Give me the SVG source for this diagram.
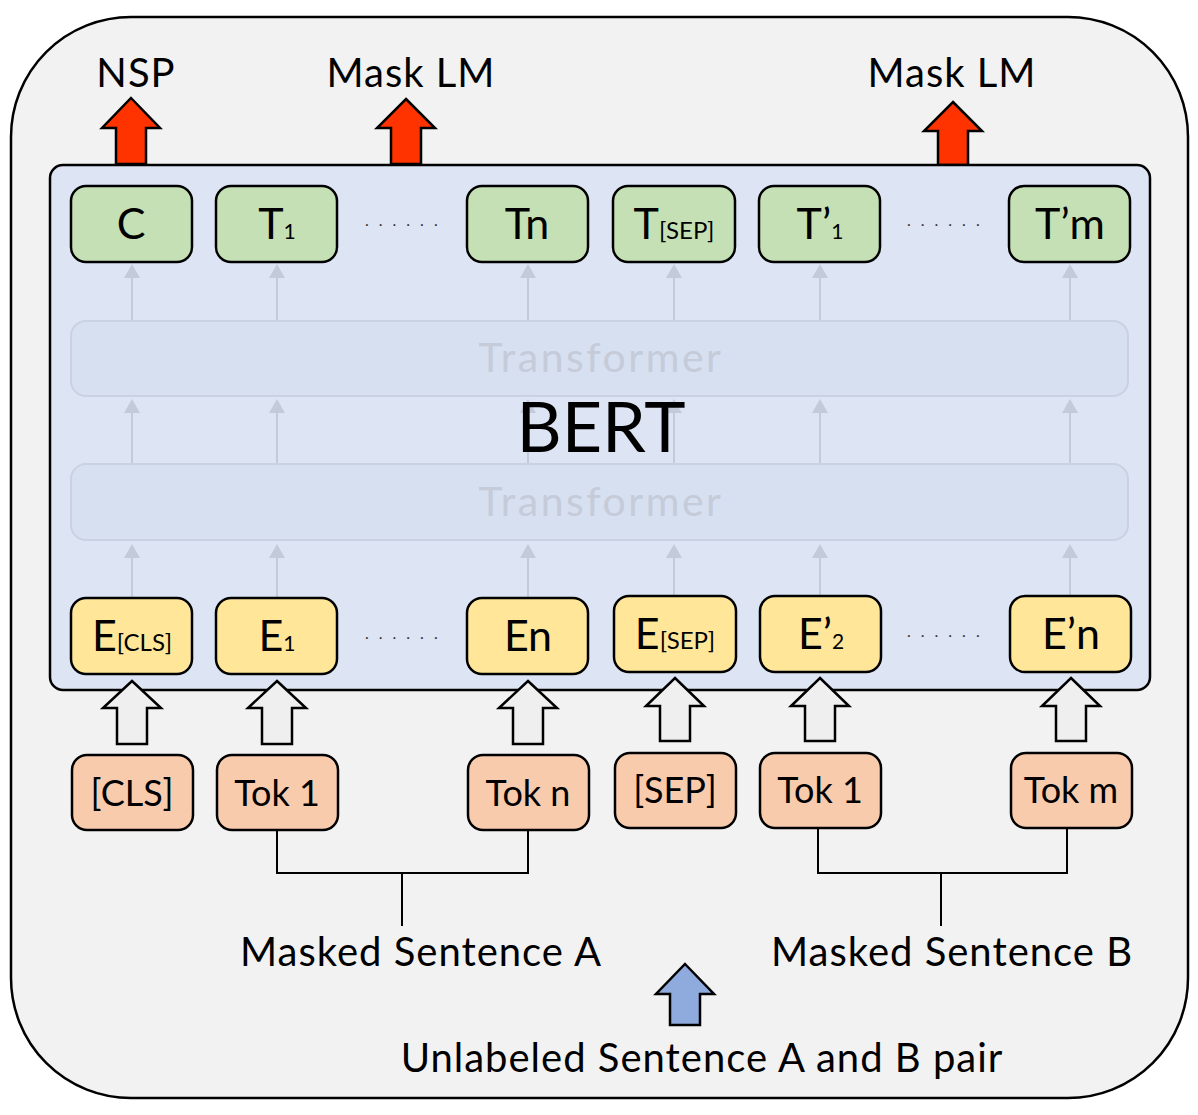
<svg xmlns="http://www.w3.org/2000/svg" width="1198" height="1115" viewBox="0 0 1198 1115">
<style>
  text { font-family: Lato, "Open Sans", "DejaVu Sans", sans-serif; fill: #000; }
  .box { stroke: #000; stroke-width: 2.5; }
  .green { fill: #c5e0b4; }
  .yellow { fill: #ffe699; }
  .orange { fill: #f8cbad; }
  .lbl { font-size: 43px; text-anchor: middle; }
  .tok { font-size: 36px; text-anchor: middle; }
  .sub { font-size: 21px; }
  .subb { font-size: 24px; }
  .big { font-size: 40px; text-anchor: middle; letter-spacing: 1px; }
  .red { fill: #ff3300; stroke: #000; stroke-width: 2.5; stroke-linejoin: miter; }
  .hollow { fill: #efefef; stroke: #000; stroke-width: 2.5; }
  .blue { fill: #8faadc; stroke: #000; stroke-width: 2.5; }
  .thin { stroke: #c3cad9; stroke-width: 2; fill: none; marker-end: url(#ah); }
  .conn { stroke: #000; stroke-width: 2; fill: none; }
  .trans { fill: #d7e0f0; stroke: #c9d1e2; stroke-width: 2; }
  .transtxt { font-size: 41px; fill: #c5cbd8; text-anchor: middle; letter-spacing: 2.5px; }
  .dots { font-size: 16px; letter-spacing: 10px; fill: #333; }
</style>
<defs>
  <marker id="ah" viewBox="0 0 14 16" refX="4" refY="8" markerWidth="14" markerHeight="16" markerUnits="userSpaceOnUse" orient="auto">
    <path d="M0,0 L14,8 L0,16 Z" fill="#c3cad9"/>
  </marker>
</defs>

<rect id="outer" x="11" y="17" width="1177" height="1081" rx="120" ry="120" fill="#f2f2f2" stroke="#000" stroke-width="2.5"/>

<g id="output-arrows">
  <path class="red" d="M131,98 L160,128 L146,128 L146,164 L116,164 L116,128 L102,128 Z"/>
  <path class="red" d="M406,99 L435,128 L421,128 L421,164 L391,164 L391,128 L377,128 Z"/>
  <path class="red" d="M953,102 L982,131 L968,131 L968,165 L938,165 L938,131 L924,131 Z"/>
</g>
<g id="output-labels">
  <text class="big" x="136" y="87">NSP</text>
  <text class="big" x="411" y="87">Mask LM</text>
  <text class="big" x="952" y="87">Mask LM</text>
</g>

<g id="bert">
  <rect x="50" y="165" width="1100" height="525" rx="13" ry="13" fill="#dde4f3" stroke="#000" stroke-width="2.5"/>
  <rect class="trans" x="71" y="321" width="1057" height="75" rx="15" ry="15"/>
  <text class="transtxt" x="601" y="372">Transformer</text>
  <rect class="trans" x="71" y="464" width="1057" height="76" rx="15" ry="15"/>
  <text class="transtxt" x="601" y="516">Transformer</text>
</g>

<g id="connectors">
  <g id="thin-arrows">
    <line class="thin" x1="132" y1="320" x2="132" y2="274"/>
    <line class="thin" x1="277" y1="320" x2="277" y2="274"/>
    <line class="thin" x1="528" y1="320" x2="528" y2="274"/>
    <line class="thin" x1="674" y1="320" x2="674" y2="274"/>
    <line class="thin" x1="820" y1="320" x2="820" y2="274"/>
    <line class="thin" x1="1070" y1="320" x2="1070" y2="274"/>

    <line class="thin" x1="132" y1="463" x2="132" y2="409"/>
    <line class="thin" x1="277" y1="463" x2="277" y2="409"/>
    <line class="thin" x1="528" y1="463" x2="528" y2="409"/>
    <line class="thin" x1="674" y1="463" x2="674" y2="409"/>
    <line class="thin" x1="820" y1="463" x2="820" y2="409"/>
    <line class="thin" x1="1070" y1="463" x2="1070" y2="409"/>

    <line class="thin" x1="132" y1="597" x2="132" y2="554"/>
    <line class="thin" x1="277" y1="597" x2="277" y2="554"/>
    <line class="thin" x1="528" y1="597" x2="528" y2="554"/>
    <line class="thin" x1="674" y1="595" x2="674" y2="554"/>
    <line class="thin" x1="820" y1="595" x2="820" y2="554"/>
    <line class="thin" x1="1070" y1="595" x2="1070" y2="554"/>
  </g>
  <g id="input-arrows">
    <path class="hollow" d="M132,681 L161,708 L147,708 L147,744 L117,744 L117,708 L103,708 Z"/>
    <path class="hollow" d="M277,681 L306,708 L292,708 L292,744 L262,744 L262,708 L248,708 Z"/>
    <path class="hollow" d="M528,681 L557,708 L543,708 L543,744 L513,744 L513,708 L499,708 Z"/>
    <path class="hollow" d="M675,678 L704,706 L690,706 L690,741 L660,741 L660,706 L646,706 Z"/>
    <path class="hollow" d="M820,678 L849,706 L835,706 L835,741 L805,741 L805,706 L791,706 Z"/>
    <path class="hollow" d="M1071,678 L1100,706 L1086,706 L1086,741 L1056,741 L1056,706 L1042,706 Z"/>
  </g>
  <polyline class="conn" points="277,830 277,873 528,873 528,830"/>
  <line class="conn" x1="402" y1="873" x2="402" y2="926"/>
  <polyline class="conn" points="818,828 818,873 1067,873 1067,828"/>
  <line class="conn" x1="941" y1="873" x2="941" y2="926"/>
  <path class="blue" d="M685,964 L714,994 L700,994 L700,1025 L670,1025 L670,994 L656,994 Z"/>
</g>

<text id="bert-label" x="601" y="452" font-size="70" text-anchor="middle">BERT</text>

<g id="node-C"><rect class="box green" x="71" y="186" width="121" height="76" rx="15"/><text class="lbl" x="131" y="239">C</text></g>
<g id="node-T1"><rect class="box green" x="216" y="186" width="121" height="76" rx="15"/><text class="lbl" x="277" y="239">T<tspan class="sub">1</tspan></text></g>
<g id="node-Tn"><rect class="box green" x="467" y="186" width="121" height="76" rx="15"/><text class="lbl" x="527" y="239">Tn</text></g>
<g id="node-Tsep"><rect class="box green" x="613" y="186" width="122" height="76" rx="15"/><text class="lbl" x="674" y="239">T<tspan class="subb">[SEP]</tspan></text></g>
<g id="node-T1b"><rect class="box green" x="759" y="186" width="121" height="76" rx="15"/><text class="lbl" x="820" y="239">T’<tspan class="sub">1</tspan></text></g>
<g id="node-Tm"><rect class="box green" x="1009" y="186" width="121" height="76" rx="15"/><text class="lbl" x="1070" y="239">T’m</text></g>
<text class="dots" x="365" y="226">......</text>
<text class="dots" x="907" y="226">......</text>

<g id="node-Ecls"><rect class="box yellow" x="71" y="598" width="121" height="76" rx="15"/><text class="lbl" x="132" y="651">E<tspan class="subb">[CLS]</tspan></text></g>
<g id="node-E1"><rect class="box yellow" x="216" y="598" width="121" height="76" rx="15"/><text class="lbl" x="277" y="651">E<tspan class="sub">1</tspan></text></g>
<g id="node-En"><rect class="box yellow" x="467" y="598" width="121" height="76" rx="15"/><text class="lbl" x="528" y="651">En</text></g>
<g id="node-Esep"><rect class="box yellow" x="614" y="596" width="122" height="76" rx="15"/><text class="lbl" x="675" y="649">E<tspan class="subb">[SEP]</tspan></text></g>
<g id="node-E2b"><rect class="box yellow" x="760" y="596" width="121" height="76" rx="15"/><text class="lbl" x="821" y="649">E’<tspan class="sub">2</tspan></text></g>
<g id="node-Enb"><rect class="box yellow" x="1010" y="596" width="121" height="76" rx="15"/><text class="lbl" x="1071" y="649">E’n</text></g>
<text class="dots" x="365" y="639">......</text>
<text class="dots" x="907" y="637">......</text>

<g id="node-cls"><rect class="box orange" x="72" y="755" width="121" height="75" rx="15"/><text class="tok" x="132" y="806">[CLS]</text></g>
<g id="node-tok1"><rect class="box orange" x="217" y="755" width="121" height="75" rx="15"/><text class="tok" x="277" y="806">Tok 1</text></g>
<g id="node-tokn"><rect class="box orange" x="468" y="755" width="121" height="75" rx="15"/><text class="tok" x="528" y="806">Tok n</text></g>
<g id="node-sep"><rect class="box orange" x="615" y="753" width="121" height="75" rx="15"/><text class="tok" x="675" y="803">[SEP]</text></g>
<g id="node-tok1b"><rect class="box orange" x="760" y="753" width="121" height="75" rx="15"/><text class="tok" x="820" y="803">Tok 1</text></g>
<g id="node-tokm"><rect class="box orange" x="1011" y="753" width="121" height="75" rx="15"/><text class="tok" x="1071" y="803">Tok m</text></g>

<g id="bottom-labels">
  <text class="big" x="421" y="966">Masked Sentence A</text>
  <text class="big" x="952" y="966">Masked Sentence B</text>
  <text class="big" x="702" y="1072">Unlabeled Sentence A and B pair</text>
</g>
</svg>
